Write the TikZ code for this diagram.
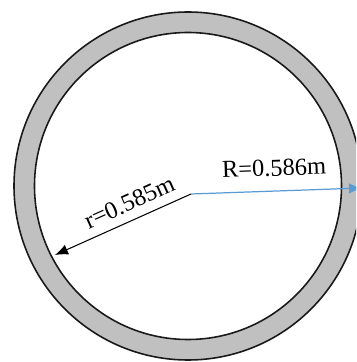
\documentclass[tikz,border=0pt]{standalone}
\usepackage{fontspec}
\setmainfont{Liberation Serif}
\usetikzlibrary{arrows.meta}
\definecolor{ring}{RGB}{192,192,192}
\definecolor{edge}{RGB}{25,25,25}
\definecolor{rblue}{RGB}{91,155,213}

\begin{document}
\begin{tikzpicture}[
  x=0.02cm, y=0.02cm,
  font=\fontsize{13.9}{16}\selectfont,
  line width=0.5pt,
  every node/.style={inner sep=2pt, text=black},
  wall/.style={draw=edge, line width=0.9pt},
  rin/.style={draw=black, line width=0.6pt, {Latex[length=2.6mm,width=2.1mm]}-},
  rout/.style={draw=rblue, line width=0.7pt, -{Latex[length=2.6mm,width=2.1mm]}},
  lab/.style={sloped, inner sep=2pt},
]
\useasboundingbox (0,0) rectangle (356,362);
\clip (0,0) rectangle (356,362);

% ---------------- pipe wall ----------------
\coordinate (c) at (188,176);
\fill[ring, even odd rule] (c) circle (174) (c) circle (153.5);
\draw[wall] (c) circle (174);
\draw[wall] (c) circle (153.5);

% ---------------- radii ----------------
\coordinate (o)    at (191,168);
\coordinate (tipr) at (55,107);
\coordinate (tipR) at (362,174);

\draw[rin] (tipr) -- node[lab, above=3pt, pos=0.6] (rlab) {r=0.585m} (o);
\draw[rout] (o) -- node[lab, above=6pt, pos=0.49] (Rlab) {R=0.586m} (tipR);

\end{tikzpicture}
\end{document}
